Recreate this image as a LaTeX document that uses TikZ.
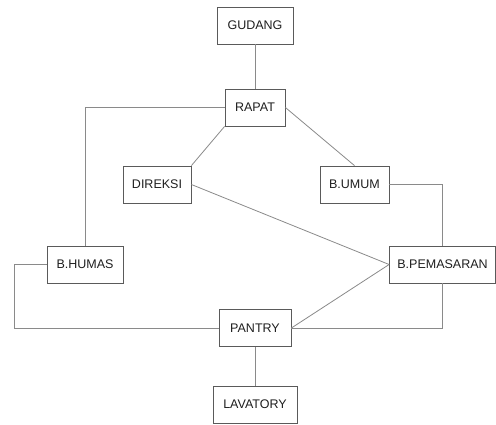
\documentclass[tikz,border=0pt]{standalone}
\usepackage{fontspec}
\setmainfont{Liberation Sans}
\usepackage{xcolor}
\usetikzlibrary{positioning}
\definecolor{rline}{HTML}{8A8A8A}
\definecolor{rbox}{HTML}{5A5A5A}
\definecolor{rtext}{HTML}{1E1E1E}

\begin{document}
\begin{tikzpicture}[x=1pt, y=-1pt, font=\fontsize{12.5}{14}\selectfont,
  room/.style={draw=rbox, line width=0.8pt, text=rtext, minimum height=37pt, inner sep=0pt},
  wire/.style={draw=rline, line width=0.8pt}]
\useasboundingbox (0,0) rectangle (496,425);
\node[room, minimum width=76pt]  (gudang)    at (255,25.5)  {GUDANG};
\node[room, minimum width=60pt]  (rapat)     at (255,107.5) {RAPAT};
\node[room, minimum width=68pt]  (direksi)   at (157,184.5) {DIREKSI};
\node[room, minimum width=69pt]  (umum)      at (354.5,184.5) {B.UMUM};
\node[room, minimum width=76pt]  (humas)     at (85,264.5)  {B.HUMAS};
\node[room, minimum width=106pt] (pemasaran) at (442.5,264.5) {B.PEMASARAN};
\node[room, minimum width=72pt]  (pantry)    at (255,328)   {PANTRY};
\node[room, minimum width=84pt]  (lavatory)  at (255,404.5) {LAVATORY};
\coordinate (hcorner) at (14,328);
% connections between rooms
\draw[wire] (gudang) -- (rapat);
\draw[wire] (rapat.west) -| (humas.north);
\draw[wire] (rapat.south west) -- (direksi.north east);
\draw[wire] (rapat.east) -- (umum.north);
\draw[wire] (direksi.east) -- (pemasaran.west);
\draw[wire] (umum.east) -| (pemasaran.north);
\draw[wire] (humas.west) -| (hcorner) -- (pantry.west);
\draw[wire] (pantry.east) -| (pemasaran.south);
\draw[wire] (pantry.east) -- (pemasaran.west);
\draw[wire] (pantry) -- (lavatory);
\end{tikzpicture}
\end{document}
